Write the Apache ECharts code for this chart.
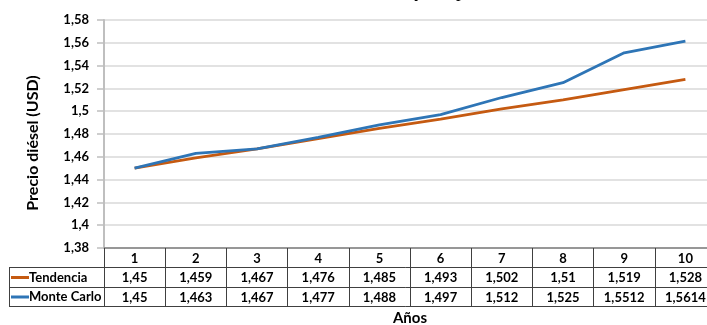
<!DOCTYPE html>
<html>
<head>
<meta charset="utf-8">
<script src="https://cdn.jsdelivr.net/npm/echarts@6/dist/echarts.min.js"></script>
<style>
html,body{margin:0;padding:0;background:#fff;}
#chart{width:707px;height:325px;}
</style>
</head>
<body>
<div id="chart"></div>
<script>
var years = ['1','2','3','4','5','6','7','8','9','10'];
var tendencia = [1.45, 1.459, 1.467, 1.476, 1.485, 1.493, 1.502, 1.51, 1.519, 1.528];
var monteCarlo = [1.45, 1.463, 1.467, 1.477, 1.488, 1.497, 1.512, 1.525, 1.5512, 1.5614];
var seriesNames = ['Tendencia', 'Monte Carlo'];
var yTitle = 'Precio diésel (USD)';
var xTitle = 'Años';
var chartTitle = 'Simulación de tendencia y del precio';

var FONT = 'Lato, "Liberation Sans", sans-serif';
var ORANGE = '#C55A11';
var BLUE = '#2E75B6';
function fmt(v){ return String(+(+v).toFixed(4)).replace('.', ','); }

var chart = echarts.init(document.getElementById('chart'), null, {renderer:'canvas'});
var baseLabel = {fontFamily: FONT, fontWeight: 'bold', fontSize: 13, color: '#000'};

function tableAxis(offset, labels, tickLen, showTick){
  return {
    type: 'category', data: years, position: 'bottom', offset: offset,
    boundaryGap: true,
    axisLine: {show: true, lineStyle: {color: '#404040', width: 1}},
    axisTick: {show: showTick, interval: 0, length: tickLen, lineStyle: {color: '#404040', width: 1}},
    axisLabel: Object.assign({show: !!labels, interval: 0, margin: 4,
      formatter: function(v, i){ return labels ? labels[i] : ''; }}, baseLabel),
    splitLine: {show: false}
  };
}

var option = {
  animation: false,
  grid: {left: 104, top: 20, width: 612, height: 228, containLabel: false, outerBoundsMode: 'none'},
  xAxis: [
    (function(){ var a = tableAxis(0, years, 19, true);
      a.axisLine.lineStyle = {color: '#7f7f7f', width: 1.5}; return a; })(),
    tableAxis(19, tendencia.map(fmt), 20, true),
    tableAxis(39, monteCarlo.map(fmt), 19, true),
    (function(){ var a = tableAxis(58, null, 0, false);
      a.name = xTitle; a.nameLocation = 'middle'; a.nameGap = 5;
      a.nameTextStyle = {fontFamily: FONT, fontWeight: 'bold', fontSize: 15, color: '#000', verticalAlign: 'top'};
      return a; })()
  ],
  yAxis: {
    type: 'value', min: 1.38, max: 1.58, interval: 0.02,
    axisLine: {show: true, lineStyle: {color: '#bfbfbf', width: 2}},
    axisTick: {show: true, length: 7, lineStyle: {color: '#bfbfbf', width: 1.5}},
    axisLabel: Object.assign({margin: 15, formatter: fmt}, baseLabel),
    splitLine: {show: true, lineStyle: {color: '#d9d9d9', width: 1.5}}
  },
  series: [
    {name: seriesNames[0], type: 'line', xAxisIndex: 0, data: tendencia, showSymbol: false, symbol: 'none',
     lineStyle: {color: ORANGE, width: 2.8}, itemStyle: {color: ORANGE}},
    {name: seriesNames[1], type: 'line', xAxisIndex: 0, data: monteCarlo, showSymbol: false, symbol: 'none',
     lineStyle: {color: BLUE, width: 2.8}, itemStyle: {color: BLUE}}
  ],
  graphic: [
    {type: 'text', x: 226, y: -17, silent: true,
     style: {text: chartTitle, font: '18.7px "Liberation Serif", serif', fill: '#000', align: 'left', verticalAlign: 'top'}},
    {type: 'text', x: 33, y: 143, rotation: Math.PI / 2, silent: true,
     style: {text: yTitle, fontFamily: FONT, fontWeight: 'bold', fontSize: 16, fill: '#000', align: 'center', verticalAlign: 'middle'}},
    {type: 'line', shape: {x1: 9, y1: 267.5, x2: 104, y2: 267.5}, style: {stroke: '#404040', lineWidth: 1}},
    {type: 'line', shape: {x1: 9, y1: 287.5, x2: 104, y2: 287.5}, style: {stroke: '#404040', lineWidth: 1}},
    {type: 'line', shape: {x1: 9, y1: 306.5, x2: 104, y2: 306.5}, style: {stroke: '#404040', lineWidth: 1}},
    {type: 'line', shape: {x1: 9.5, y1: 267, x2: 9.5, y2: 307}, style: {stroke: '#404040', lineWidth: 1}},
    {type: 'line', shape: {x1: 11, y1: 277.5, x2: 29, y2: 277.5}, style: {stroke: ORANGE, lineWidth: 3}},
    {type: 'line', shape: {x1: 11, y1: 297, x2: 29, y2: 297}, style: {stroke: BLUE, lineWidth: 3}},
    {type: 'text', x: 29, y: 277.5, silent: true,
     style: {text: seriesNames[0], fontFamily: FONT, fontWeight: 'bold', fontSize: 13, fill: '#000', align: 'left', verticalAlign: 'middle'}},
    {type: 'text', x: 29, y: 297, silent: true,
     style: {text: seriesNames[1], fontFamily: FONT, fontWeight: 'bold', fontSize: 13, fill: '#000', align: 'left', verticalAlign: 'middle'}}
  ]
};
chart.setOption(option);
</script>
</body>
</html>
